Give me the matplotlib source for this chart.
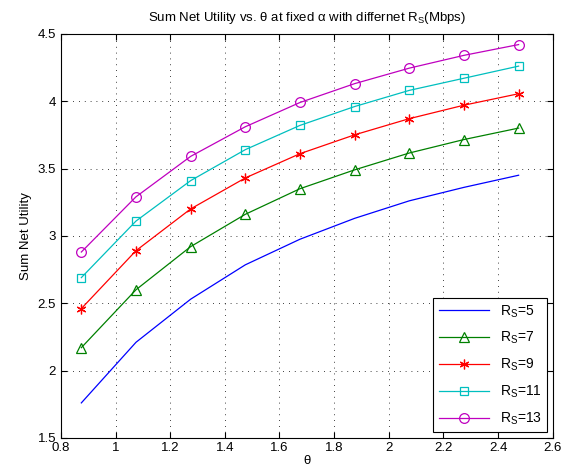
import matplotlib
matplotlib.use("Agg")
import matplotlib.pyplot as plt

plt.rcParams['font.family'] = ['Liberation Sans', 'DejaVu Sans']
plt.rcParams['mathtext.fontset'] = 'custom'
plt.rcParams['mathtext.rm'] = 'Liberation Sans'
plt.rcParams['mathtext.it'] = 'Liberation Sans'

theta = [0.875, 1.075, 1.275, 1.475, 1.675, 1.875, 2.075, 2.275, 2.475]

rs5 = [1.76, 2.21, 2.53, 2.785, 2.975, 3.13, 3.26, 3.36, 3.45]
rs7 = [2.17, 2.60, 2.92, 3.16, 3.35, 3.49, 3.615, 3.715, 3.80]
rs9 = [2.46, 2.89, 3.20, 3.43, 3.61, 3.75, 3.87, 3.97, 4.055]
rs11 = [2.69, 3.11, 3.41, 3.64, 3.82, 3.96, 4.08, 4.17, 4.26]
rs13 = [2.88, 3.29, 3.59, 3.81, 3.99, 4.13, 4.245, 4.34, 4.42]

labels = ['R$_\\mathrm{S}$=5', 'R$_\\mathrm{S}$=7', 'R$_\\mathrm{S}$=9',
          'R$_\\mathrm{S}$=11', 'R$_\\mathrm{S}$=13']

fig = plt.figure(figsize=(5.74, 4.76), dpi=100)
ax = fig.add_axes([0.106, 0.080, 0.857, 0.849])

ax.plot(theta, rs5, color='#0000ff', lw=0.9, label=labels[0])
ax.plot(theta, rs7, color='#008000', lw=0.9, marker='^', ms=7, mfc='none',
        mew=0.9, label=labels[1])
ax.plot(theta, rs9, color='#ff0000', lw=0.9, marker=(6, 2, 0), ms=7,
        mew=0.9, label=labels[2])
ax.plot(theta, rs11, color='#00bfbf', lw=0.9, marker='s', ms=6, mfc='none',
        mew=0.9, label=labels[3])
ax.plot(theta, rs13, color='#bf00bf', lw=0.9, marker='o', ms=7, mfc='none',
        mew=0.9, label=labels[4])

ax.set_xlim(0.8, 2.6)
ax.set_ylim(1.5, 4.5)
ax.set_xticks([0.8, 1, 1.2, 1.4, 1.6, 1.8, 2, 2.2, 2.4, 2.6])
ax.set_xticklabels(['0.8', '1', '1.2', '1.4', '1.6', '1.8', '2', '2.2', '2.4', '2.6'])
ax.set_yticks([1.5, 2, 2.5, 3, 3.5, 4, 4.5])
ax.set_yticklabels(['1.5', '2', '2.5', '3', '3.5', '4', '4.5'])
ax.tick_params(direction='in', top=True, right=True, labelsize=9.5, length=4)
ax.tick_params(axis='x', pad=3)
ax.grid(True, color='black', linestyle=(0, (1, 6)), lw=0.6)

ax.set_xlabel('θ', fontsize=9.5, labelpad=1)
ax.set_ylabel('Sum Net Utility', fontsize=9.5)
ax.set_title('Sum Net Utility vs. θ at fixed α with differnet R$_\\mathrm{S}$(Mbps)',
             fontsize=9.5, pad=9)

leg = ax.legend(loc='lower right', fontsize=10, handlelength=3.6, fancybox=False,
                edgecolor='black', framealpha=1, borderaxespad=0.4,
                labelspacing=0.75)
leg.get_frame().set_linewidth(0.8)

fig.savefig('out.png', dpi=100)
